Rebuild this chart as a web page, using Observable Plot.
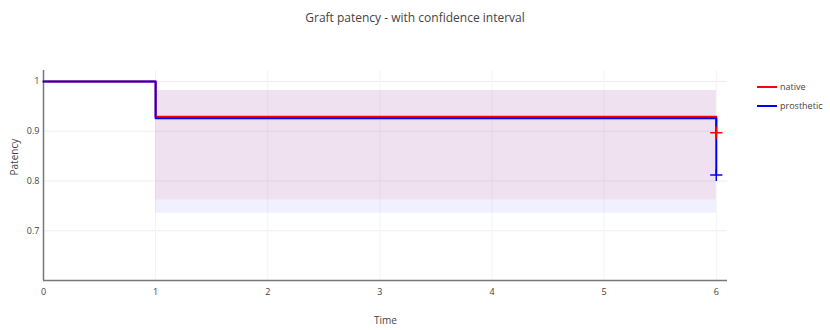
<!DOCTYPE html>
<html>
<head>
<meta charset="utf-8">
<script src="https://cdn.jsdelivr.net/npm/d3@7"></script>
<script src="https://cdn.jsdelivr.net/npm/@observablehq/plot@0.6"></script>
<style>
  body { margin: 0; width: 830px; height: 330px; overflow: hidden; background: #fff; position: relative;
         font-family: "Open Sans", sans-serif; }
  #title { height: 40px; line-height: 36px; text-align: center; font-size: 12px; color: #444; }
  #legend { position: absolute; left: 757px; top: 77px; font-size: 9px; color: #444; }
  #legend div { display: flex; align-items: center; height: 19px; white-space: nowrap; }
  #legend span.sw { display: inline-block; width: 20px; height: 2px; margin-right: 3px; }
  svg { display: block; }
</style>
</head>
<body>
<div id="title">Graft patency - with confidence interval</div>
<div id="legend"></div>
<div id="chart"></div>
<script>
// Data
const seriesNames = ["native", "prosthetic"];
const seriesColors = ["#ff0000", "#0000ff"];
const times = [0, 1, 6];
const nativeSurv = [1, 0.929, 0.897];
const prostheticSurv = [1, 0.926, 0.812];
const ciTimes = [1, 6];
const nativeLower = [0.762, 0.762];
const nativeUpper = [0.982, 0.982];
const prostheticLower = [0.735, 0.735];
const prostheticUpper = [0.982, 0.982];
const censorTime = 6;
const xTicks = [0, 1, 2, 3, 4, 5, 6];
const yTicks = [0.7, 0.8, 0.9, 1];

const survData = [];
seriesNames.forEach((s, i) => {
  const vals = i === 0 ? nativeSurv : prostheticSurv;
  times.forEach((t, j) => survData.push({series: s, time: t, surv: vals[j]}));
});
const ciData = [];
seriesNames.forEach((s, i) => {
  const lo = i === 0 ? nativeLower : prostheticLower;
  const hi = i === 0 ? nativeUpper : prostheticUpper;
  ciTimes.forEach((t, j) => ciData.push({series: s, time: t, lo: lo[j], hi: hi[j]}));
});
const censorData = survData.filter(d => d.time === censorTime);

const yFmt = d => d === 1 ? "1" : d3.format(".1f")(d);

const chart = Plot.plot({
  width: 830,
  height: 290,
  marginTop: 30,
  marginBottom: 50,
  marginLeft: 43,
  marginRight: 103,
  style: {fontFamily: '"Open Sans", sans-serif', fontSize: "9px", color: "#444"},
  x: {domain: [0, 6.1]},
  y: {domain: [0.6, 1.022]},
  color: {domain: seriesNames, range: seriesColors},
  marks: [
    Plot.gridY(yTicks, {stroke: "#eee", strokeOpacity: 1}),
    Plot.gridX(xTicks.slice(1), {stroke: "#f3f3f3", strokeOpacity: 1}),
    Plot.areaY(ciData, {x: "time", y1: "lo", y2: "hi", z: "series", fill: "series", fillOpacity: 0.06}),
    Plot.ruleY([0.6], {stroke: "#777", strokeWidth: 1.5}),
    Plot.ruleX([0], {stroke: "#777", strokeWidth: 1.5}),
    Plot.line(survData, {x: "time", y: "surv", z: "series", stroke: "series", curve: "step-after", strokeWidth: 2}),
    Plot.dot(censorData, {x: "time", y: "surv", stroke: "series", symbol: "plus", r: 4, strokeWidth: 1.5}),
    Plot.axisX(xTicks, {tickSize: 0, tickPadding: 8, label: null, tickFormat: d3.format("d")}),
    Plot.axisY(yTicks, {tickSize: 0, tickPadding: 4, label: null, tickFormat: yFmt}),
    Plot.text(["Time"], {frameAnchor: "bottom", dy: 43, fontSize: 10, fill: "#444"}),
    Plot.text(["Patency"], {frameAnchor: "left", dx: -29, rotate: -90, fontSize: 10, fill: "#444"})
  ]
});
document.getElementById("chart").appendChild(chart);

const legend = document.getElementById("legend");
seriesNames.forEach((s, i) => {
  const row = document.createElement("div");
  row.innerHTML = `<span class="sw" style="background:${seriesColors[i]}"></span>${s}`;
  legend.appendChild(row);
});
</script>
</body>
</html>
